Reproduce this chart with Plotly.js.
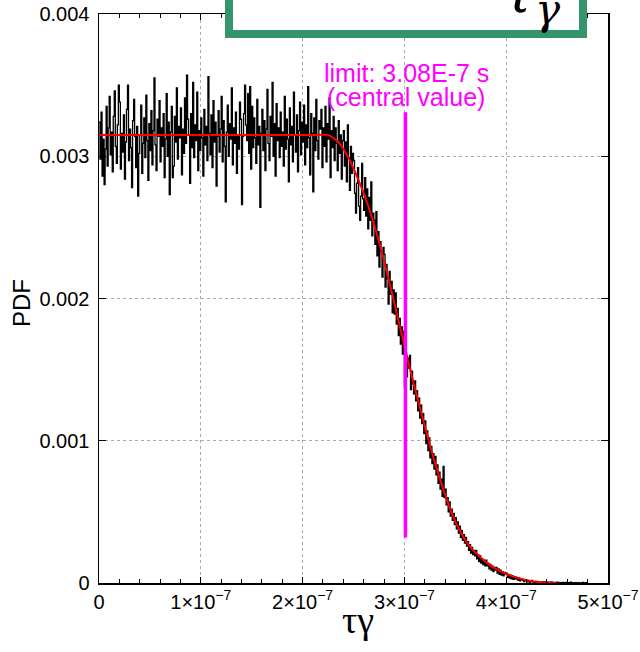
<!DOCTYPE html>
<html><head><meta charset="utf-8">
<script src="https://cdn.plot.ly/plotly-3.0.1.min.js"></script>
<style>html,body{margin:0;padding:0;background:#fff}#chart{width:640px;height:652px}</style>
</head><body><div id="chart"></div>
<script>
// Histogram: bins of width 1e-9 s starting at 0; PDF values in units of 1e-3
const binStart = 0;
const binWidth = 1e-9;
const pdfE3 = [
 3.24,2.98,3.31,2.86,3.12,2.80,3.05,3.35,2.93,3.20,3.42,3.01,3.17,2.89,3.28,3.46,3.07,2.95,3.22,3.50,
 3.38,2.91,3.16,3.03,3.29,2.84,3.10,3.33,3.50,2.97,3.19,3.06,2.78,3.25,3.40,3.14,2.92,3.21,2.72,3.02,
 3.15,3.36,2.88,3.09,3.27,2.99,3.43,3.11,2.83,3.23,3.04,3.32,2.94,3.18,3.55,3.08,2.90,3.26,3.14,3.39,
 2.96,3.20,3.07,3.30,2.85,3.12,3.44,3.00,3.24,2.73,3.17,3.35,2.85,2.93,3.28,3.10,3.48,2.98,3.21,3.13,
 3.34,2.87,3.19,3.02,3.41,3.09,3.57,3.26,3.15,2.81,3.30,3.06,3.52,2.99,3.22,3.11,3.45,2.90,3.18,3.04,
 3.27,3.13,2.86,3.33,3.08,3.21,2.97,3.56,3.16,3.01,3.29,2.92,3.39,3.10,3.24,2.79,3.14,3.32,3.03,3.19,
 3.42,2.96,3.25,3.07,2.68,3.17,3.36,3.00,3.23,3.12,3.48,2.94,3.20,3.09,3.31,2.88,3.15,3.05,3.38,3.26,
 2.66,3.14,3.30,3.50,3.22,3.11,3.44,3.02,3.49,2.91,3.35,3.06,3.27,3.13,2.95,3.40,3.08,3.21,2.64,3.16,
 3.33,3.04,3.25,2.90,3.19,3.47,3.09,2.97,3.28,3.14,3.52,3.00,3.23,2.86,3.37,3.11,3.20,2.99,3.31,3.07,
 3.17,2.93,3.42,3.05,3.26,3.12,2.82,3.34,3.08,3.21,2.96,3.45,3.15,3.03,3.29,2.89,3.18,3.38,3.01,3.24,
 3.10,3.36,2.94,3.22,3.06,3.49,3.13,2.87,3.30,3.16,2.75,3.27,3.04,3.40,3.11,2.98,3.25,3.19,3.33,2.92,
 3.20,3.07,3.35,2.96,3.23,3.12,3.41,2.85,3.18,3.06,
 3.28,2.97,3.20,3.09,2.90,3.25,3.02,3.15,2.84,3.11,
 3.18,2.93,3.10,2.82,3.22,2.99,2.76,3.07,2.88,3.02,
 2.97,2.74,2.60,2.81,2.92,2.65,2.55,2.72,2.95,2.70,
 2.62,2.85,2.58,2.77,2.49,2.71,2.55,2.82,2.44,2.60,
 2.55,2.38,2.61,2.30,2.47,2.22,2.40,2.33,2.15,2.36,
 2.31,2.08,2.24,2.14,1.96,2.19,2.03,2.12,1.90,2.06,
 1.89,2.04,1.82,1.93,1.74,1.86,1.68,1.80,1.61,1.77,
 1.38,1.62,1.45,1.58,1.51,1.60,1.36,1.49,1.40,1.33,
 1.42,1.28,1.35,1.21,1.30,1.16,1.25,1.12,1.19,1.05,
 1.14,0.98,1.07,0.93,1.02,0.88,0.96,0.84,0.91,0.80,
 0.89,0.76,0.83,0.70,0.78,0.66,0.73,0.61,0.82,0.60,
 0.66,0.55,0.60,0.50,0.57,0.47,0.52,0.44,0.49,0.41,
 0.46,0.38,0.43,0.35,0.40,0.32,0.37,0.30,0.34,0.28,
 0.32,0.26,0.29,0.23,0.27,0.21,0.25,0.20,0.23,0.19,
 0.23,0.17,0.20,0.15,0.19,0.14,0.17,0.13,0.16,0.12,
 0.16,0.12,0.14,0.10,0.13,0.09,0.12,0.08,0.11,0.09,
 0.11,0.07,0.10,0.06,0.09,0.055,0.08,0.05,0.075,0.06,
 0.07,0.04,0.06,0.035,0.055,0.03,0.05,0.025,0.045,0.03,
 0.04,0.02,0.035,0.015,0.03,0.02,0.025,0.01,0.02,0.015,
 0.02,0.008,0.015,0.005,0.012,0.018,0.006,0.01,0.004,0.012,
 0.008,0.003,0.01,0.005,0.002,0.007,0.004,0.009,0.002,0.006,
 0.003,0.006,0.001,0.004,0.008,0.002,0.005,0.0,0.003,0.006,
 0.002,0.004,0.0,0.003,0.001,0.005,0.0,0.002,0.004,0.0,
 0.003,0.0,0.002,0.006,0.001,0.0,0.003,0.0,0.002,0.001,
 0.0,0.003,0.0,0.001,0.0,0.004,0.0,0.0,0.002,0.0
];
// Fitted curve (x in units of 1e-7 s, y in units of 1e-3)
const fitXE7 = [0,2.0,2.15,2.25,2.35,2.45,2.55,2.65,2.75,2.85,2.95,3.05,3.15,3.25,3.35,3.45,3.55,3.65,3.75,3.85,3.95,4.05,4.2,4.35,4.5];
const fitYE3 = [3.15,3.15,3.15,3.15,3.10,2.99,2.83,2.64,2.40,2.12,1.82,1.52,1.24,0.97,0.73,0.52,0.36,0.25,0.18,0.12,0.08,0.05,0.02,0.005,0];
// Limit line
const limitX = 3.01e-7;
const limitY = [0.00032, 0.00331];
const limitLabel1 = 'limit: 3.08E-7 s';
const limitLabel2 = '(central value)';
const xTicks = [0,1e-7,2e-7,3e-7,4e-7,5e-7];
const yTicks = [0,0.001,0.002,0.003,0.004];
const yTickText = ['0','0.001','0.002','0.003','0.004'];
const xTitle = 'τγ';
const yTitle = 'PDF';
const boxMain = 'τ';
const boxSub = 'γ';

const hx = [], hy = [];
for (let i = 0; i < pdfE3.length; i++) { hx.push(binStart + i*binWidth); hy.push(pdfE3[i]*1e-3); }
hx.push(binStart + pdfE3.length*binWidth); hy.push(0);

const traces = [
 {x: hx, y: hy, type:'scatter', mode:'lines', line:{shape:'hv', color:'#000', width:1.3}, hoverinfo:'skip'},
 {x: fitXE7.map(v=>v*1e-7), y: fitYE3.map(v=>v*1e-3), type:'scatter', mode:'lines', line:{shape:'spline', smoothing:0.6, color:'#ff0000', width:2}},
 {x: [limitX, limitX], y: limitY, type:'scatter', mode:'lines', line:{color:'#ff00ff', width:3.5}}
];

const tickFont = {family:'Liberation Sans, Arial, sans-serif', size:20, color:'#000'};
const py = p => (583 - p) / 569;   // pixel row -> paper y
const px = p => (p - 99) / 509;    // pixel column -> paper x
const layout = {
 width:640, height:652,
 margin:{l:99, r:32, t:14, b:69},
 paper_bgcolor:'#fff', plot_bgcolor:'#fff',
 showlegend:false,
 xaxis:{range:[0,5e-7], tickvals:xTicks, exponentformat:'power', showexponent:'all',
   ticks:'inside', ticklen:6, tickcolor:'#000', mirror:'ticks', showline:true, linecolor:'#000', linewidth:1.5,
   showgrid:true, gridcolor:'#aaa', griddash:'dot', gridwidth:1, zeroline:false,
   minor:{dtick:2e-8, ticks:'inside', ticklen:4, tickcolor:'#000', showgrid:false},
   tickfont:tickFont, automargin:false, title:{text:''}},
 yaxis:{range:[0,0.004], tickvals:yTicks, ticktext:yTickText, ticklabelstandoff:4,
   ticks:'inside', ticklen:7, tickcolor:'#000', mirror:'ticks', showline:true, linecolor:'#000', linewidth:1.5,
   showgrid:true, gridcolor:'#aaa', griddash:'dot', gridwidth:1, zeroline:false,
   tickfont:tickFont, automargin:false, title:{text:''}},
 shapes:[
  {type:'rect', xref:'paper', yref:'paper', x0:px(229), x1:px(583), y0:py(34), y1:1.15,
   line:{color:'#34946c', width:8}, fillcolor:'#fff', layer:'above'}
 ],
 annotations:[
  {xref:'paper', yref:'paper', x:px(519), y:py(27), xanchor:'center', yanchor:'bottom', showarrow:false,
   text:'<i>'+boxMain+'</i>', font:{family:'DejaVu Serif, serif', size:56, color:'#000'}},
  {xref:'paper', yref:'paper', x:px(548), y:py(36), xanchor:'center', yanchor:'bottom', showarrow:false,
   text:'<i>'+boxSub+'</i>', font:{family:'DejaVu Serif, serif', size:42, color:'#000'}},
  {xref:'x', yref:'paper', x:3.02e-7, y:py(73), xanchor:'center', yanchor:'middle', showarrow:false,
   text:limitLabel1, font:{family:'Liberation Sans, Arial, sans-serif', size:25, color:'#ff00ff'}},
  {xref:'x', yref:'paper', x:3.02e-7, y:py(97), xanchor:'center', yanchor:'middle', showarrow:false,
   text:limitLabel2, font:{family:'Liberation Sans, Arial, sans-serif', size:25, color:'#ff00ff'}},
  {xref:'paper', yref:'paper', x:px(358), y:py(597), xanchor:'center', yanchor:'top', showarrow:false,
   text:xTitle, font:{family:'Liberation Serif, Times New Roman, serif', size:38, color:'#000'}},
  {xref:'paper', yref:'paper', x:px(21), y:py(303), xanchor:'center', yanchor:'middle', showarrow:false, textangle:-90,
   text:yTitle, font:{family:'Liberation Sans, Arial, sans-serif', size:24, color:'#000'}}
 ]
};
Plotly.newPlot('chart', traces, layout, {displayModeBar:false, staticPlot:true});
</script></body></html>
